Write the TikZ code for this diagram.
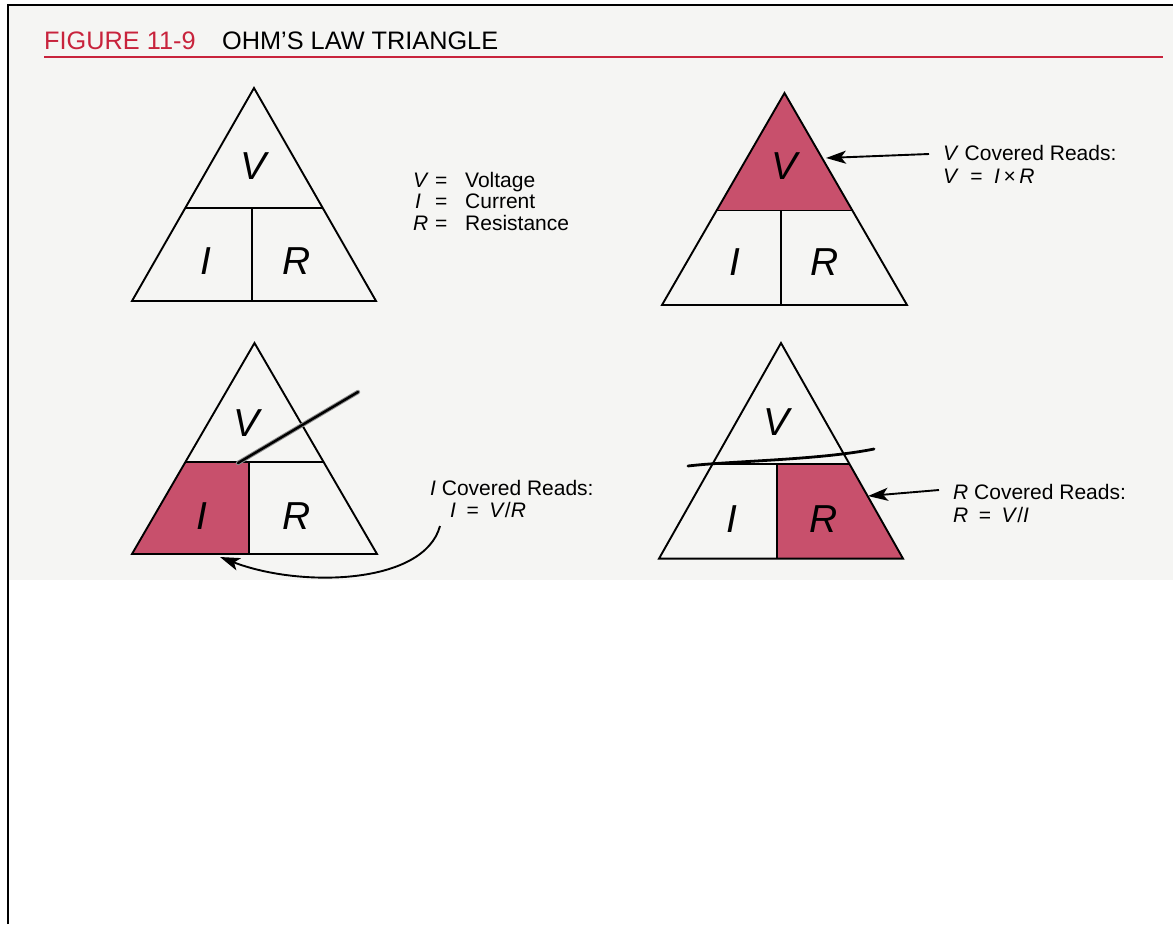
\documentclass[tikz,border=0pt]{standalone}
\usepackage{fontspec}
\setmainfont{Liberation Sans}
\usetikzlibrary{arrows.meta,calc}
\definecolor{cover}{RGB}{200,80,108}
\definecolor{titlered}{RGB}{200,35,60}
\definecolor{scan}{RGB}{245,245,243}
\begin{document}
\begin{tikzpicture}[x=1pt,y=-1pt,
  outline/.style={draw=black,line width=1.9pt,line join=miter},
  part/.style={draw=black,line width=1.9pt},
  letter/.style={font=\fontsize{39}{42}\selectfont\itshape,inner sep=0pt},
  lbl/.style={font=\fontsize{21}{24}\selectfont,inner sep=0pt,anchor=base west},
  ttl/.style={font=\fontsize{25.3}{28}\selectfont,inner sep=0pt,anchor=base west},
  pointer/.style={draw=black,line width=1.9pt,-{Stealth[length=20pt,width=13pt,inset=5pt]}},
  handline/.style={draw=black,line width=3pt,line cap=round}]
\useasboundingbox (0,0) rectangle (1173,924);
\fill[white] (0,0) rectangle (1173,924);
\fill[scan] (8,5) rectangle (1173,580);
% frame
\draw[line width=2.6pt] (8,924) -- (8,5) -- (1173,5);
% title
\node[ttl,text=titlered] (fig) at (44,49) {FIGURE 11-9};
\node[ttl] (title) at (222,49) {OHM’S LAW TRIANGLE};
\coordinate (ula) at (44,57);
\coordinate (ulb) at (1163,57);
\draw[titlered,line width=1.3pt] (ula) -- (ulb);

% ---------- triangle 1 ----------
\coordinate (t1a) at (254,88);
\coordinate (t1l) at (132,301);
\coordinate (t1r) at (376,301);
\coordinate (t1ml) at ($(t1a)!0.563!(t1l)$);
\coordinate (t1mr) at ($(t1a)!0.563!(t1r)$);
\coordinate (t1dt) at (252,208);
\coordinate (t1db) at (252,301);
\draw[outline] (t1a) -- (t1l) -- (t1r) -- cycle;
\draw[part] (t1ml) -- (t1mr);
\draw[part] (t1dt) -- (t1db);
\node[letter] (t1v) at (254,166) {V};
\node[letter] (t1i) at (206,261) {I};
\node[letter] (t1rr) at (297,261) {R};
% legend
\node[lbl,font=\fontsize{21}{24}\selectfont\itshape] (lv) at (413,187) {V};
\node[lbl] (lve) at (435,187) {=};
\node[lbl] (lvt) at (465,187) {Voltage};
\node[lbl,font=\fontsize{21}{24}\selectfont\itshape] (li) at (415,208) {I};
\node[lbl] (lie) at (435,208) {=};
\node[lbl] (lit) at (465,208) {Current};
\node[lbl,font=\fontsize{21}{24}\selectfont\itshape] (lr) at (413,230) {R};
\node[lbl] (lre) at (435,230) {=};
\node[lbl] (lrt) at (465,230) {Resistance};

% ---------- triangle 2 (V covered) ----------
\coordinate (t2a) at (784.5,93);
\coordinate (t2l) at (662,305);
\coordinate (t2r) at (907,305);
\coordinate (t2ml) at ($(t2a)!0.554!(t2l)$);
\coordinate (t2mr) at ($(t2a)!0.554!(t2r)$);
\coordinate (t2dt) at (781,210.5);
\coordinate (t2db) at (781,305);
\fill[cover] (t2a) -- (t2ml) -- (t2mr) -- cycle;
\draw[outline] (t2a) -- (t2l) -- (t2r) -- cycle;
\draw[part] (t2ml) -- (t2mr);
\draw[part] (t2dt) -- (t2db);
\node[letter] (t2v) at (784,166) {V};
\node[letter] (t2i) at (735,262) {I};
\node[letter] (t2rr) at (825,262) {R};
\coordinate (p2s) at (929,154);
\coordinate (p2t) at (826,158);
\draw[pointer] (p2s) -- (p2t);
\node[lbl] (c2a) at (943,160) {\textit{V} Covered Reads:};
\node[lbl] (c2b) at (943,183) {\textit{V}\hspace{0.55em}=\hspace{0.55em}\textit{I}\,×\,\textit{R}};

% ---------- triangle 3 (I covered) ----------
\coordinate (t3a) at (254.5,343);
\coordinate (t3l) at (132,554);
\coordinate (t3r) at (377,554);
\coordinate (t3ml) at ($(t3a)!0.564!(t3l)$);
\coordinate (t3mr) at ($(t3a)!0.564!(t3r)$);
\coordinate (t3dt) at (249,462);
\coordinate (t3db) at (249,554);
\fill[cover] (t3l) -- (t3ml) -- (t3dt) -- (t3db) -- cycle;
\draw[outline] (t3a) -- (t3l) -- (t3r) -- cycle;
\draw[part] (t3ml) -- (t3mr);
\draw[part] (t3dt) -- (t3db);
\node[letter] (t3v) at (247,423) {V};
\node[letter] (t3i) at (202,516) {I};
\node[letter] (t3rr) at (297,516) {R};
\coordinate (h3a) at (238,463);
\coordinate (h3b) at (358,392);
\draw[draw=black!45,line width=4.4pt,line cap=round] (h3a) -- (h3b);
\draw[handline,line width=2.4pt] (h3a) -- (h3b);
\node[lbl] (c3a) at (430,495) {\textit{I} Covered Reads:};
\node[lbl] (c3b) at (450,517.5) {\textit{I}\hspace{0.5em}=\hspace{0.5em}\textit{V}/\textit{R}};
\coordinate (p3s) at (440,526);
\coordinate (p3t) at (220,557);
\draw[pointer] (p3s) .. controls (424,585) and (300,588) .. (p3t);

% ---------- triangle 4 (R covered) ----------
\coordinate (t4a) at (781,343);
\coordinate (t4l) at (659,558.6);
\coordinate (t4r) at (903,558.6);
\coordinate (t4ml) at ($(t4a)!0.561!(t4l)$);
\coordinate (t4mr) at ($(t4a)!0.561!(t4r)$);
\coordinate (t4dt) at (777,464);
\coordinate (t4db) at (777,558.6);
\fill[cover] (t4dt) -- (t4mr) -- (t4r) -- (t4db) -- cycle;
\draw[outline] (t4a) -- (t4l) -- (t4r) -- cycle;
\draw[part] (t4ml) -- (t4mr);
\draw[part] (t4dt) -- (t4db);
\node[letter] (t4v) at (776,422) {V};
\node[letter] (t4i) at (732,519) {I};
\node[letter] (t4rr) at (824,519) {R};
\coordinate (h4a) at (688,466);
\coordinate (h4b) at (874,449);
\draw[handline,line width=2.8pt] (h4a) .. controls (730,461) and (820,460) .. (h4b);
\coordinate (p4s) at (939,490);
\coordinate (p4t) at (868,496);
\draw[pointer] (p4s) -- (p4t);
\node[lbl] (c4a) at (953,499) {\textit{R} Covered Reads:};
\node[lbl] (c4b) at (953,522) {\textit{R}\hspace{0.5em}=\hspace{0.5em}\textit{V}/\textit{I}};
\end{tikzpicture}
\end{document}
